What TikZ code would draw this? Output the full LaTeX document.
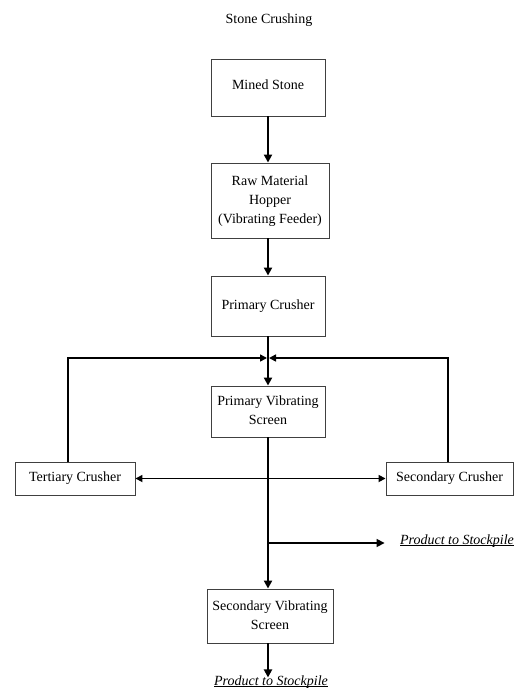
\documentclass[tikz,border=0pt]{standalone}
\usepackage{fontspec}
\setmainfont{Liberation Serif}
\newcommand{\produnder}[1]{\setbox0=\hbox{#1}\rlap{\rule[-1.6pt]{\wd0}{0.5pt}}\box0}
\usetikzlibrary{arrows.meta,positioning,calc}
\tikzset{
  block/.style = {draw=black!75, line width=0.9pt, rectangle, minimum width=114pt,
                  align=center, inner sep=2pt},
  flow/.style  = {-{Triangle[length=8pt,width=8pt]}, line width=2pt},
  feed/.style  = {line width=1.6pt},
  prod/.style  = {font=\fontsize{14}{19}\selectfont\itshape},
}
\begin{document}
\begin{tikzpicture}[x=1pt,y=-1pt,font=\fontsize{14}{19}\selectfont]
\useasboundingbox (0,0) rectangle (519,690);
\node (title) at (269,20) {Stone Crushing};
% main column
\node[block,minimum height=57pt] (mined) at (268,87.5) {\raisebox{5pt}{Mined Stone}};
\node[block,minimum height=75pt,minimum width=118pt] (hopper) at (270,200.5)
  {\raisebox{6pt}{\begin{tabular}{@{}c@{}}Raw Material\\Hopper\\(Vibrating Feeder)\end{tabular}}};
\node[block,minimum height=60pt] (pcrusher) at (268,306) {Primary Crusher};
\node[block,minimum height=51pt] (pscreen) at (268,411.5)
  {\raisebox{2pt}{\begin{tabular}{@{}c@{}}Primary Vibrating\\Screen\end{tabular}}};
\node[block,minimum height=33pt,minimum width=120pt] (tcrusher) at (75,478.5) {Tertiary Crusher};
\node[block,minimum height=33pt,minimum width=127pt] (scrusher) at (449.5,478.5) {Secondary Crusher};
\node[block,minimum height=54pt,minimum width=126pt] (sscreen) at (270,616)
  {\raisebox{2pt}{\begin{tabular}{@{}c@{}}Secondary Vibrating\\Screen\end{tabular}}};
\node[prod] (prod1) at (457,541) {\produnder{Product to Stockpile}};
\node[prod,inner sep=0pt] (prod2) at (271,682) {\produnder{Product to Stockpile}};
% junctions
\coordinate (j) at (268,358);
\coordinate (tl) at (68,358);
\coordinate (tr) at (448,358);
\coordinate (br) at (268,543);
% connectors
\draw[flow] (mined.south -| j) -- (hopper.north -| j);
\draw[flow] (hopper.south -| j) -- (pcrusher.north -| j);
\draw[flow] (pcrusher.south -| j) -- (pscreen.north -| j);
\draw[feed,-{Triangle[length=7pt,width=7pt]}] (tl |- tcrusher.north) -- (tl) -- ($(j)+(-1,0)$);
\draw[feed,-{Triangle[length=7pt,width=7pt]}] (tr |- scrusher.north) -- (tr) -- ($(j)+(1,0)$);
\draw[flow] (pscreen.south -| j) -- (sscreen.north -| j);
\draw[feed,{Triangle[length=7pt,width=7pt]}-{Triangle[length=7pt,width=7pt]}] (tcrusher) -- (scrusher);
\draw[feed,-{Triangle[length=8pt,width=8pt]}] (br) -- ($(prod1.west)+(-12,2)$);
\draw[flow] (sscreen.south -| j) -- ($(prod2.north -| j)+(0,2)$);
\end{tikzpicture}
\end{document}
